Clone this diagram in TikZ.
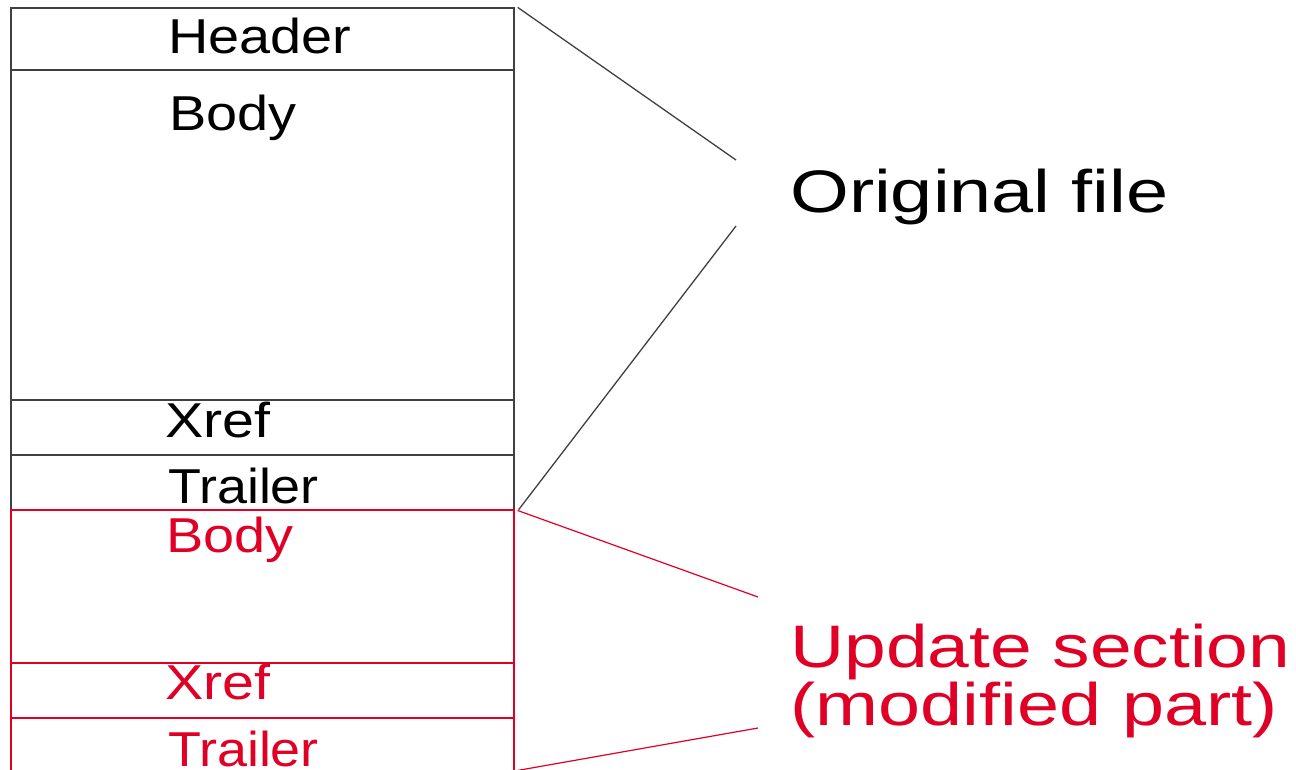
\documentclass[tikz,border=0pt]{standalone}
\usepackage{fontspec}
\setmainfont{Liberation Sans}
\usetikzlibrary{fit,calc}
\definecolor{upred}{RGB}{224,0,38}
\definecolor{linegray}{RGB}{64,64,64}
\newcommand\wideText[2]{\scalebox{#1}[1]{#2}}
\tikzset{
  sect/.style={draw=linegray, line width=1.3pt, inner sep=0pt},
  upsect/.style={draw=upred, line width=1.1pt, inner sep=0pt},
  small/.style={anchor=base west, inner sep=0pt, font=\fontsize{49}{56}\selectfont},
  big/.style={anchor=base west, inner sep=0pt, font=\fontsize{60}{58}\selectfont, align=left},
  conn/.style={draw=linegray, line width=1.3pt},
  upconn/.style={draw=upred, line width=1.2pt}
}
\begin{document}
\begin{tikzpicture}[x=1pt,y=-1pt]
\useasboundingbox (0,0) rectangle (1296,769);
% original file sections
\node[sect, fit={(11,8) (514,70)}] (hdr) {};
\node[sect, fit={(11,70) (514,400)}] (body) {};
\node[sect, fit={(11,400) (514,455)}] (xref) {};
\node[sect, fit={(11,455) (514,510)}] (trl) {};
% update section
\node[upsect, fit={(11,510) (514,663)}] (ubody) {};
\node[upsect, fit={(11,663) (514,718)}] (uxref) {};
\node[upsect, fit={(11,718) (514,800)}] (utrl) {};
% labels
\node[small] (lhdr) at (168,53) {\wideText{1.14}{Header}};
\node[small] (lbody) at (169,130) {\wideText{1.14}{Body}};
\node[small] (lxref) at (165,437) {\wideText{1.17}{Xref}};
\node[small] (ltrl) at (168,503) {\wideText{1.10}{Trailer}};
\node[small, text=upred] (lubody) at (166,552) {\wideText{1.14}{Body}};
\node[small, text=upred] (luxref) at (165,699) {\wideText{1.17}{Xref}};
\node[small, text=upred] (lutrl) at (168,766) {\wideText{1.10}{Trailer}};
\node[big] (orig) at (790,212) {\wideText{1.26}{Original file}};
\node[big, text=upred] (upd) at (790,667) {\wideText{1.25}{Update section}};
\node[big, text=upred] (mod) at (790,725) {\wideText{1.26}{(modified part)}};
% connector ends
\coordinate (o1) at (736,160);
\coordinate (o2) at (736,226);
\coordinate (u1) at (758,597);
\coordinate (u2) at (758,728);
\draw[conn] ($(hdr.north east)+(3,0)$) -- (o1);
\draw[conn] ($(trl.south east)+(4,-1)$) -- (o2);
\draw[upconn] ($(ubody.north east)+(3,1)$) -- (u1);
\draw[upconn] ($(utrl.north east)+(3,53)$) -- (u2);
\end{tikzpicture}
\end{document}
